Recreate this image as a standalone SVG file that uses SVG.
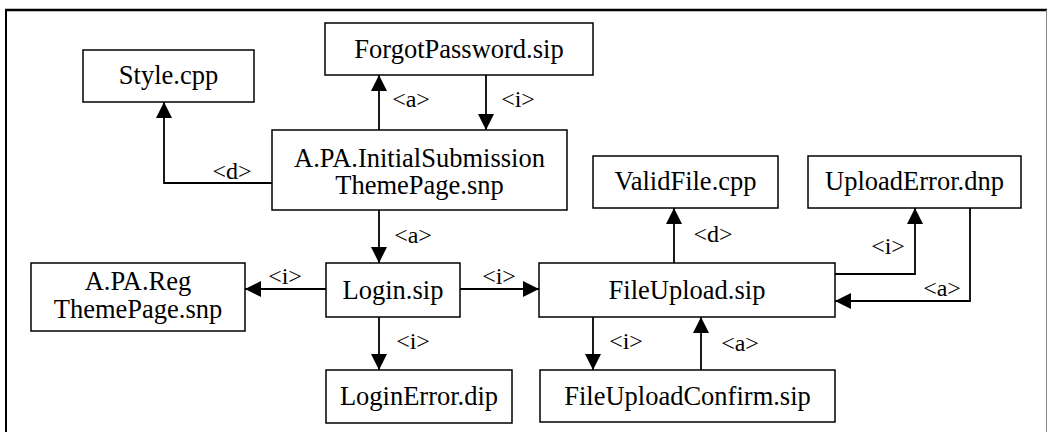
<svg xmlns="http://www.w3.org/2000/svg" width="1048" height="432" viewBox="0 0 1048 432">
<defs>
<marker id="ah" viewBox="0 0 10 10" refX="10" refY="5" markerWidth="16" markerHeight="16" markerUnits="userSpaceOnUse" orient="auto">
<path d="M0,0 L10,5 L0,10 z" fill="#000"/>
</marker>
</defs>
<style>
.box{fill:#fff;stroke:#000;stroke-width:1.5}
.t{font-family:"Liberation Serif","Times New Roman",serif;font-size:26.5px;fill:#000;text-anchor:middle}
.l{font-family:"Liberation Serif","Times New Roman",serif;font-size:24px;fill:#000;text-anchor:middle}
.c{fill:none;stroke:#000;stroke-width:1.8}
</style>
<rect x="0" y="0" width="1048" height="432" fill="#fff"/>
<g id="frame">
<line x1="5" y1="10" x2="1047" y2="10" stroke="#000" stroke-width="2.5"/>
<line x1="6" y1="9" x2="6" y2="432" stroke="#000" stroke-width="2"/>
<line x1="1046.5" y1="10" x2="1046.5" y2="432" stroke="#888" stroke-width="1"/>
</g>
<g id="connectors">
<path class="c" d="M272,183 H164 V102" marker-end="url(#ah)"/>
<path class="c" d="M379,130 V75" marker-end="url(#ah)"/>
<path class="c" d="M486,75 V130" marker-end="url(#ah)"/>
<path class="c" d="M379,210 V263" marker-end="url(#ah)"/>
<path class="c" d="M326,289 H245" marker-end="url(#ah)"/>
<path class="c" d="M460,289 H539" marker-end="url(#ah)"/>
<path class="c" d="M379,317 V370" marker-end="url(#ah)"/>
<path class="c" d="M674,263 V208" marker-end="url(#ah)"/>
<path class="c" d="M835,274 H915 V208" marker-end="url(#ah)"/>
<path class="c" d="M970,208 V301 H835" marker-end="url(#ah)"/>
<path class="c" d="M593,317 V370" marker-end="url(#ah)"/>
<path class="c" d="M701,370 V317" marker-end="url(#ah)"/>
<text class="l" x="232" y="179">&lt;d&gt;</text>
<text class="l" x="411" y="107">&lt;a&gt;</text>
<text class="l" x="518" y="107">&lt;i&gt;</text>
<text class="l" x="413" y="243">&lt;a&gt;</text>
<text class="l" x="285" y="284">&lt;i&gt;</text>
<text class="l" x="499" y="284">&lt;i&gt;</text>
<text class="l" x="413" y="349">&lt;i&gt;</text>
<text class="l" x="713" y="242">&lt;d&gt;</text>
<text class="l" x="888" y="254">&lt;i&gt;</text>
<text class="l" x="942" y="296">&lt;a&gt;</text>
<text class="l" x="626" y="349">&lt;i&gt;</text>
<text class="l" x="740" y="351">&lt;a&gt;</text>
</g>
<g id="style-cpp"><rect class="box" x="83" y="50" width="171" height="52"/><text class="t" x="168.5" y="84">Style.cpp</text></g>
<g id="forgot-password"><rect class="box" x="325" y="23" width="268" height="52"/><text class="t" x="459" y="58">ForgotPassword.sip</text></g>
<g id="initial-submission"><rect class="box" x="272" y="130" width="295" height="80"/><text class="t" x="419.5" y="167">A.PA.InitialSubmission</text><text class="t" x="419.5" y="194">ThemePage.snp</text></g>
<g id="valid-file"><rect class="box" x="593" y="156" width="185" height="52"/><text class="t" x="685.5" y="190">ValidFile.cpp</text></g>
<g id="upload-error"><rect class="box" x="808" y="156" width="213" height="52"/><text class="t" x="914.5" y="190">UploadError.dnp</text></g>
<g id="apa-reg"><rect class="box" x="31" y="263" width="214" height="68"/><text class="t" x="138" y="290">A.PA.Reg</text><text class="t" x="138" y="318">ThemePage.snp</text></g>
<g id="login"><rect class="box" x="326" y="263" width="134" height="54"/><text class="t" x="393" y="299">Login.sip</text></g>
<g id="file-upload"><rect class="box" x="539" y="263" width="296" height="54"/><text class="t" x="687" y="299">FileUpload.sip</text></g>
<g id="login-error"><rect class="box" x="326" y="370" width="186" height="53"/><text class="t" x="419" y="405">LoginError.dip</text></g>
<g id="file-upload-confirm"><rect class="box" x="540" y="370" width="295" height="52"/><text class="t" x="687.5" y="405">FileUploadConfirm.sip</text></g>
</svg>
